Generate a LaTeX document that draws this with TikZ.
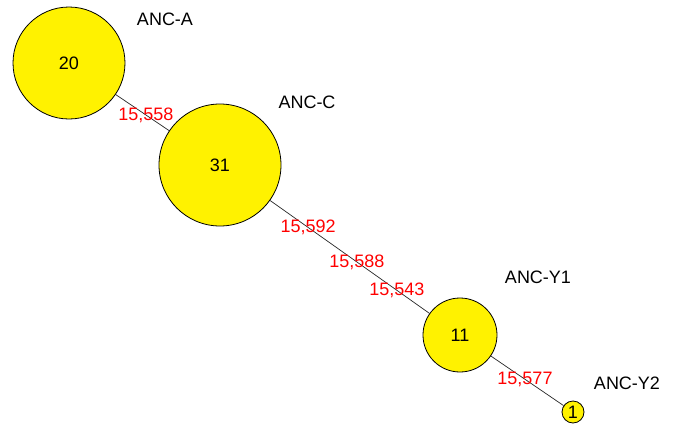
\documentclass[tikz,border=0pt]{standalone}
\usepackage{fontspec}
\setmainfont{Liberation Sans}
\usepackage{tikz}
\usetikzlibrary{calc}
\tikzstyle{haplo} = [circle, draw=black, line width=0.8pt, fill=yellow,
    inner sep=0pt, font=\fontsize{18}{21}\selectfont]
\tikzstyle{link} = [draw=black!85, line width=0.7pt]

\begin{document}
\begin{tikzpicture}[x=1pt, y=-1pt,
    nameLbl/.style={font=\fontsize{18}{21}\selectfont, inner sep=0pt},
    stepLbl/.style={font=\fontsize{18}{21}\selectfont, text=red, inner sep=0pt}
    ]
    \useasboundingbox (0,0) rectangle (673,424);

    \node[haplo, minimum size=112pt] (ancA) at (69,63) {20};
    \node[haplo, minimum size=122pt] (ancC) at (220,165) {31};
    \node[haplo, minimum size=74pt] (ancY1) at (460,335) {11};
    \node[haplo, minimum size=22pt] (ancY2) at (573,412) {1};

    \node[nameLbl] (labA) at ([shift={(96,-44)}]ancA) {ANC-A};
    \node[nameLbl] (labC) at ([shift={(87,-63)}]ancC) {ANC-C};
    \node[nameLbl] (labY1) at ([shift={(78,-58)}]ancY1) {ANC-Y1};
    \node[nameLbl] (labY2) at ([shift={(54,-29)}]ancY2) {ANC-Y2};

    \path[link] (ancA) -- node[stepLbl, pos=0.566] {15,558} (ancC);
    \path[link] (ancC) -- node[stepLbl, pos=0.239] {15,592}
        node[stepLbl, pos=0.545] {15,588}
        node[stepLbl, pos=0.796] {15,543} (ancY1);
    \path[link] (ancY1) -- node[stepLbl, pos=0.469] {15,577} (ancY2);
\end{tikzpicture}
\end{document}
